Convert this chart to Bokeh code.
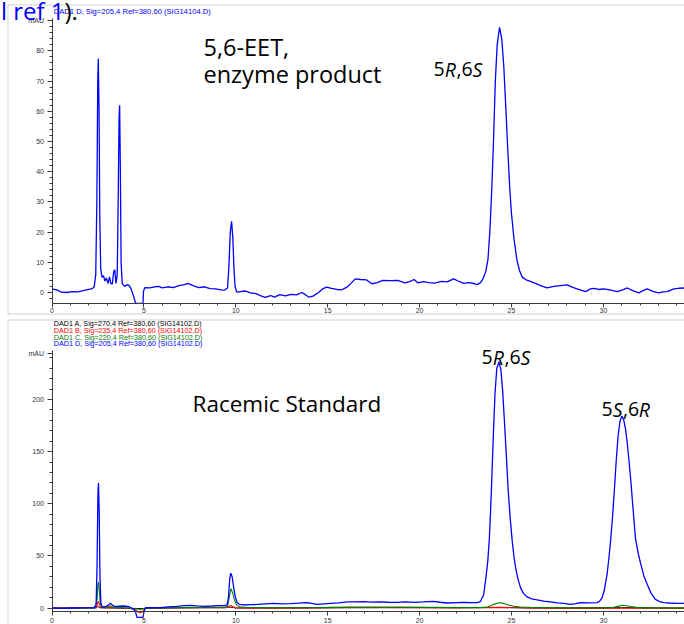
from bokeh.plotting import figure
from bokeh.layouts import column
from bokeh.models import Range1d, FixedTicker, Label, BoxAnnotation
from bokeh.embed import file_html
from bokeh.resources import INLINE

# ---------------- data ----------------
# Top chromatogram: 5,6-EET enzyme product, DAD1 D (blue)
top_time = [0.0, 0.3, 0.5, 0.8, 1.1, 1.4, 1.7, 2.0, 2.2, 2.3, 2.38, 2.44, 2.49, 2.52, 2.56, 2.6, 2.65,
            2.72, 2.8, 2.88, 2.96, 3.05, 3.13, 3.2, 3.28, 3.36, 3.42, 3.48, 3.55, 3.6, 3.65, 3.68, 3.72,
            3.76, 3.82, 3.95, 4.1, 4.2, 4.3, 4.4, 4.5, 4.55, 4.6, 4.9, 4.95, 4.98, 5.05, 5.3, 5.6, 5.8,
            6.0, 6.3, 6.6, 6.9, 7.2, 7.4, 7.7, 8.0, 8.3, 8.6, 8.9, 9.2, 9.4, 9.55, 9.62, 9.7, 9.77, 9.84,
            9.9, 9.96, 10.05, 10.25, 10.5, 10.8, 11.1, 11.4, 11.6, 11.9, 12.1, 12.4, 12.7, 13.0, 13.3,
            13.6, 13.8, 13.97, 14.2, 14.5, 14.75, 14.95, 15.2, 15.5, 15.75, 16.0, 16.2, 16.5, 16.8, 17.1,
            17.4, 17.7, 18.0, 18.4, 18.8, 19.2, 19.45, 19.7, 19.9, 20.2, 20.5, 20.8, 21.2, 21.5, 21.85,
            22.1, 22.4, 22.7, 23.0, 23.13, 23.3, 23.45, 23.6, 23.72, 23.82, 23.92, 24.02, 24.12, 24.22,
            24.35, 24.47, 24.58, 24.7, 24.8, 24.9, 25.0, 25.13, 25.3, 25.45, 25.58, 25.8, 26.03, 26.3,
            26.58, 26.94, 27.3, 27.67, 28.03, 28.3, 28.57, 29.03, 29.3, 29.48, 29.75, 30.02, 30.4, 30.75,
            31.05, 31.3, 31.6, 31.93, 32.15, 32.38, 32.7, 33.0, 33.25, 33.47, 33.83, 34.1, 34.42]
top_mau = [1.2, 0.8, 0.1, 0.0, 0.3, 0.2, 0.6, 1.0, 1.3, 2.0, 6, 30, 70, 77.4, 60, 25, 8,
           5.0, 5.6, 3.8, 4.8, 3.0, 5.2, 3.0, 2.8, 7.0, 7.5, 3.0, 6, 30, 58, 62, 40,
           10, 3.0, 2.0, 2.6, 2.3, 1.2, -0.5, -2.5, -3.6, -3.6, -3.6, -3.6, 0.5, 1.6, 1.5, 1.9, 2.0,
           1.5, 1.9, 1.6, 2.3, 2.6, 3.0, 2.2, 1.6, 1.9, 1.3, 1.2, 0.9, 0.8, 1.5, 8, 20, 23.6, 18,
           8, 2, 0.1, 0.3, 0.5, -0.1, -0.4, -1.2, -1.6, -1.0, -1.5, -0.7, -1.1, -0.6, -0.8,
           0.0, -0.8, -1.5, -1.2, 0.0, 1.3, 1.8, 1.4, 1.0, 0.9, 1.6, 2.6, 4.5, 4.3, 4.2,
           2.9, 3.3, 4.0, 3.9, 4.0, 3.2, 3.6, 4.3, 3.2, 3.6, 3.3, 3.1, 3.7, 3.5, 4.5,
           3.8, 3.0, 3.3, 2.9, 2.6, 3.2, 4.5, 7.0, 11, 20, 33, 50, 70, 82,
           87.8, 84, 75, 60, 47, 35, 26, 18, 10.6, 7, 5.1, 4.2, 3.7, 3.0,
           2.3, 1.5, 2.0, 2.3, 2.5, 1.8, 1.2, 0.3, 1.2, 1.4, 1.0, 1.2, 0.8, 0.3,
           0.9, 1.5, 0.6, -0.1, 0.6, 1.2, 0.4, -0.1, 0.2, 0.3, 1.2, 1.4, 1.5]

# Bottom chromatogram: racemic standard, DAD1 D (blue)
std_d_time = [0.0, 0.5, 1.0, 1.5, 2.0, 2.3, 2.4, 2.45, 2.5, 2.53, 2.57, 2.61, 2.66, 2.73, 2.9, 3.05,
              3.18, 3.3, 3.4, 3.6, 3.9, 4.2, 4.45, 4.55, 4.62, 4.95, 5.0, 5.08, 5.5, 5.9, 6.3, 6.8,
              7.2, 7.54, 7.9, 8.26, 8.7, 9.0, 9.35, 9.53, 9.6, 9.67, 9.73, 9.8, 9.9, 9.98, 10.08,
              10.2, 10.44, 10.8, 11.16, 11.6, 12.07, 12.5, 12.98, 13.4, 13.88, 14.43, 14.8, 15.15,
              15.6, 16.06, 16.5, 16.96, 17.4, 17.87, 18.3, 18.78, 19.2, 19.69, 20.2, 20.77, 21.1,
              21.5, 22.0, 22.4, 22.8, 23.13, 23.3, 23.49, 23.6, 23.71, 23.8, 23.9, 24.0, 24.1, 24.2,
              24.32, 24.42, 24.52, 24.62, 24.72, 24.82, 24.93, 25.04, 25.13, 25.22, 25.35, 25.49,
              25.65, 25.85, 26.1, 26.4, 26.75, 27.12, 27.5, 27.85, 28.2, 28.5, 28.75, 29.2, 29.66,
              29.8, 29.93, 30.05, 30.2, 30.3, 30.39, 30.5, 30.6, 30.7, 30.8, 30.9, 31.0, 31.1, 31.2,
              31.3, 31.4, 31.5, 31.6, 31.75, 31.9, 32.02, 32.2, 32.38, 32.6, 32.83, 33.05, 33.29,
              33.6, 34.0, 34.42]
std_d_mau = [0.0, -0.3, 0.0, 0.2, 0.3, 0.5, 3, 40, 110, 120, 90, 30, 5, 1.0, 1.2, 2.5,
             4.5, 2.5, 1.6, 1.7, 1.9, 1.2, -1.3, -4, -9, -9, -4, 0.3, 0.3, 0.3, 1.0, 1.6,
             2.2, 2.5, 2.0, 1.6, 1.9, 2.2, 2.2, 2.9, 10, 28, 33.4, 30, 18, 10, 5.1,
             3.5, 2.9, 3.2, 3.4, 4.0, 4.5, 4.0, 4.2, 4.6, 5.1, 3.4, 4.0, 4.5,
             5.0, 5.8, 5.9, 6.1, 5.7, 5.8, 5.5, 5.4, 5.8, 5.4, 5.8, 6.4, 5.5,
             4.8, 5.2, 5.4, 5.2, 5.1, 6, 13, 28, 45, 68, 110, 160, 205, 230,
             236, 229, 208, 178, 146, 113, 86, 64, 50, 39, 28, 19.5,
             14, 10.6, 8.8, 7.7, 6.5, 5.8, 5.0, 4.5, 3.4, 4.2, 5.1, 5.0, 5.1,
             6.5, 10, 17, 32.4, 48, 64, 88, 114, 142, 165, 179, 184, 181, 172,
             158, 140, 120, 98, 66, 52, 43, 31, 22.8, 14, 8.3, 6.2, 5.1,
             4.8, 4.5, 4.4]

# DAD1 C (green)
std_c_time = [0.0, 1.0, 2.0, 2.35, 2.45, 2.5, 2.53, 2.57, 2.62, 2.7, 2.9, 3.18, 3.35, 3.9, 4.4, 4.8,
              5.1, 5.5, 6.5, 7.5, 8.5, 9.4, 9.55, 9.64, 9.73, 9.82, 9.92, 10.05, 10.2, 10.5, 11.5,
              13.0, 14.5, 16.0, 17.5, 19.0, 20.5, 22.0, 23.3, 23.68, 23.9, 24.04, 24.31, 24.58,
              24.85, 25.13, 25.5, 26.03, 27.0, 28.0, 29.0, 30.0, 30.5, 30.84, 31.02, 31.25, 31.47,
              31.8, 32.2, 33.0, 34.42]
std_c_mau = [-0.3, -0.2, 0.0, 0.3, 8, 22, 25, 18, 5, 1, 0.5, 2, 0.6, 0.3, -0.5, -1.5,
             -0.3, 0.0, 0.3, 0.5, 0.3, 0.4, 1.5, 10, 18.6, 15, 8, 3, 1.2, 0.6, 0.4,
             0.3, 0.4, 0.8, 1.0, 0.8, 0.6, 0.4, 0.4, 0.8, 2.5, 3.5, 5, 4.4,
             2.8, 1.6, 1.0, 0.7, 0.3, 0.1, 0.0, 0.1, 0.5, 1.8, 2.6, 2.2, 1.4,
             0.6, 0.1, 0.0, -0.1]

# DAD1 B (red)
std_b_time = [0.0, 1.0, 2.0, 2.4, 2.47, 2.52, 2.57, 2.63, 2.8, 3.2, 3.5, 4.2, 4.5, 4.7, 4.81, 4.92,
              5.05, 5.2, 6.5, 8.0, 9.5, 9.62, 9.72, 9.82, 9.95, 10.5, 12.0, 14.0, 16.0, 18.0, 20.0,
              22.0, 24.3, 25.5, 27.0, 29.0, 31.0, 33.0, 34.42]
std_b_mau = [0.0, 0.1, 0.2, 0.5, 4, 6.5, 4, 1, 0.3, 0.6, 0.2, -0.3, -1.5, -4, -4.6, -3.5,
             -1, 0.0, 0.2, 0.3, 0.3, 1.5, 2.4, 1.5, 0.3, 0.0, -0.2, 0.0, 0.5, 0.5, 0.3,
             0.0, 0.6, 0.2, -0.2, -0.4, -0.3, -0.3, -0.4]

# DAD1 A (black)
std_a_time = [0.0, 2.4, 2.5, 2.6, 4.8, 9.7, 10.0, 24.3, 26.0, 31.0, 34.42]
std_a_mau = [0.0, 0.0, 1.5, 0.2, -0.5, 0.8, 0.0, 0.5, 0.0, 0.3, 0.0]

x_major_ticks = [0, 5, 10, 15, 20, 25, 30, 35]
x_minor_ticks = list(range(0, 36))
top_y_ticks = [0, 10, 20, 30, 40, 50, 60, 70, 80]
top_y_minor = list(range(-2, 92, 2))
top_unit_at = 90
bot_y_ticks = [0, 50, 100, 150, 200]
bot_y_minor = list(range(0, 250, 10))
bot_unit_at = 244
unit_label = "mAU"

top_header = "DAD1 D, Sig=205,4 Ref=380,60 (SIG14104.D)"
bot_headers = ["DAD1 A, Sig=270,4 Ref=380,60 (SIG14102.D)",
               "DAD1 B, Sig=235,4 Ref=380,60 (SIG14102.D)",
               "DAD1 C, Sig=220,4 Ref=380,60 (SIG14102.D)",
               "DAD1 D, Sig=205,4 Ref=380,60 (SIG14102.D)"]
bot_header_colors = ["#000000", "#ff0000", "#008000", "#0000ff"]

# ---------------- layout (pixel geometry of each panel) ----------------
W = 684
FONT = "Open Sans"
BASE_FIX = 0.36   # empirical shift (em) so that the glyph baseline lands where intended
# x0: pixel of t=0, kx: px per minute, y0: pixel of 0 mAU, ky: px per mAU
TOP = dict(off=0, h=316, x0=51.5, kx=18.38, y0=292.0, ky=3.02, xaxis_px=303, yaxis_top_px=18)
BOT = dict(off=316, h=308, x0=51.5, kx=18.38, y0=607.5, ky=1.0425, xaxis_px=611, yaxis_top_px=350)


def conv(P, rx, ry):
    """reference pixel -> data coordinates of the panel"""
    return (rx - P["x0"]) / P["kx"], (P["y0"] - ry) / P["ky"]


def make_fig(P, yticks, yminor, unit_at, x_standoff):
    xa, ya0 = conv(P, 0, P["off"] + P["h"])
    xb, ya1 = conv(P, W, P["off"])
    p = figure(width=W, height=P["h"], x_range=Range1d(xa, xb), y_range=Range1d(ya0, ya1),
               output_backend="svg", toolbar_location=None, min_border=0, title=None)
    p.outline_line_color = None
    p.xgrid.visible = False
    p.ygrid.visible = False
    p.background_fill_color = "white"
    p.border_fill_color = "white"
    _, y_axis_val = conv(P, 0, P["xaxis_px"])
    _, y_top_val = conv(P, 0, P["yaxis_top_px"])
    for ax in (p.xaxis[0], p.yaxis[0]):
        ax.axis_line_color = "#3a3a3a"
        ax.major_tick_line_color = "#3a3a3a"
        ax.minor_tick_line_color = "#3a3a3a"
        ax.major_tick_in = 0
        ax.minor_tick_in = 0
        ax.major_label_text_font = "Liberation Sans"
        ax.major_label_text_font_size = "7px"
        ax.major_label_text_color = "#333333"
    xax = p.xaxis[0]
    xax.ticker = FixedTicker(ticks=x_major_ticks, minor_ticks=x_minor_ticks)
    xax.fixed_location = y_axis_val
    xax.bounds = (0, 40)
    xax.major_tick_out = 4
    xax.minor_tick_out = 2
    xax.major_label_standoff = x_standoff
    yax = p.yaxis[0]
    yax.ticker = FixedTicker(ticks=yticks + [unit_at], minor_ticks=yminor)
    yax.major_label_overrides = {unit_at: unit_label}
    yax.fixed_location = 0
    yax.bounds = (y_axis_val, y_top_val)
    yax.major_tick_out = 5
    yax.minor_tick_out = 3
    yax.major_label_standoff = 3
    return p


def add_text(p, P, rx, ry, text, size, color="#000000", font=FONT, style="normal", align="left"):
    x, y = conv(P, rx, ry - BASE_FIX * size)
    p.add_layout(Label(x=x, y=y, text=text, text_font=font, text_font_size=f"{size}px",
                       text_color=color, text_font_style=style, text_align=align,
                       text_baseline="alphabetic"))


# approximate Open Sans advance widths (em)
ADV = {"5": 0.572, "6": 0.572, ",": 0.245, "R": 0.61, "S": 0.525}


def add_rich(p, P, rx, ry, pieces, size):
    x = rx
    for txt, ital in pieces:
        add_text(p, P, x, ry, txt, size, style="italic" if ital else "normal")
        x += sum(ADV.get(c, 0.55) for c in txt) * size


def add_box(p, P, left, top, right, bottom):
    l, t = conv(P, left, top)
    r, b = conv(P, right, bottom)
    p.add_layout(BoxAnnotation(left=l, right=r, top=t, bottom=b, fill_alpha=0,
                               line_color="#666666", line_width=1))


# ---------------- top panel ----------------
p1 = make_fig(TOP, top_y_ticks, top_y_minor, top_unit_at, 0)
add_box(p1, TOP, 7.5, 4.5, 760, 313.5)
p1.line(top_time, top_mau, line_color="#0000ff", line_width=1.3)
add_text(p1, TOP, 53.3, 13.4, top_header, 7.6, color="#0000ff", font="Liberation Sans")
add_text(p1, TOP, 64, 18.3, "l ref 1", 24, color="#0000ff", align="right")
add_text(p1, TOP, 64, 18.3, ").", 24, color="#000000")
add_text(p1, TOP, 203, 55, "5,6-EET,", 23.5)
add_text(p1, TOP, 203, 82, "enzyme product", 23.5)
add_rich(p1, TOP, 433, 76, [("5", False), ("R", True), (",6", False), ("S", True)], 19.5)

# ---------------- bottom panel ----------------
p2 = make_fig(BOT, bot_y_ticks, bot_y_minor, bot_unit_at, 2)
add_box(p2, BOT, 7.5, 319.5, 760, 760)
p2.line(std_a_time, std_a_mau, line_color="#000000", line_width=1.0)
p2.line(std_b_time, std_b_mau, line_color="#ff0000", line_width=1.1)
p2.line(std_c_time, std_c_mau, line_color="#008000", line_width=1.1)
p2.line(std_d_time, std_d_mau, line_color="#0000ff", line_width=1.3)
for i, (txt, col) in enumerate(zip(bot_headers, bot_header_colors)):
    add_text(p2, BOT, 53.3, 325.8 + 6.67 * i, txt, 7.2, color=col, font="Liberation Sans")
add_text(p2, BOT, 192, 411, "Racemic Standard", 22.5)
add_rich(p2, BOT, 481, 364, [("5", False), ("R", True), (",6", False), ("S", True)], 19.5)
add_rich(p2, BOT, 601, 416, [("5", False), ("S", True), (",6", False), ("R", True)], 19.5)

layout = column(p1, p2, spacing=0)
open("out.html", "w").write(file_html(layout, INLINE))
